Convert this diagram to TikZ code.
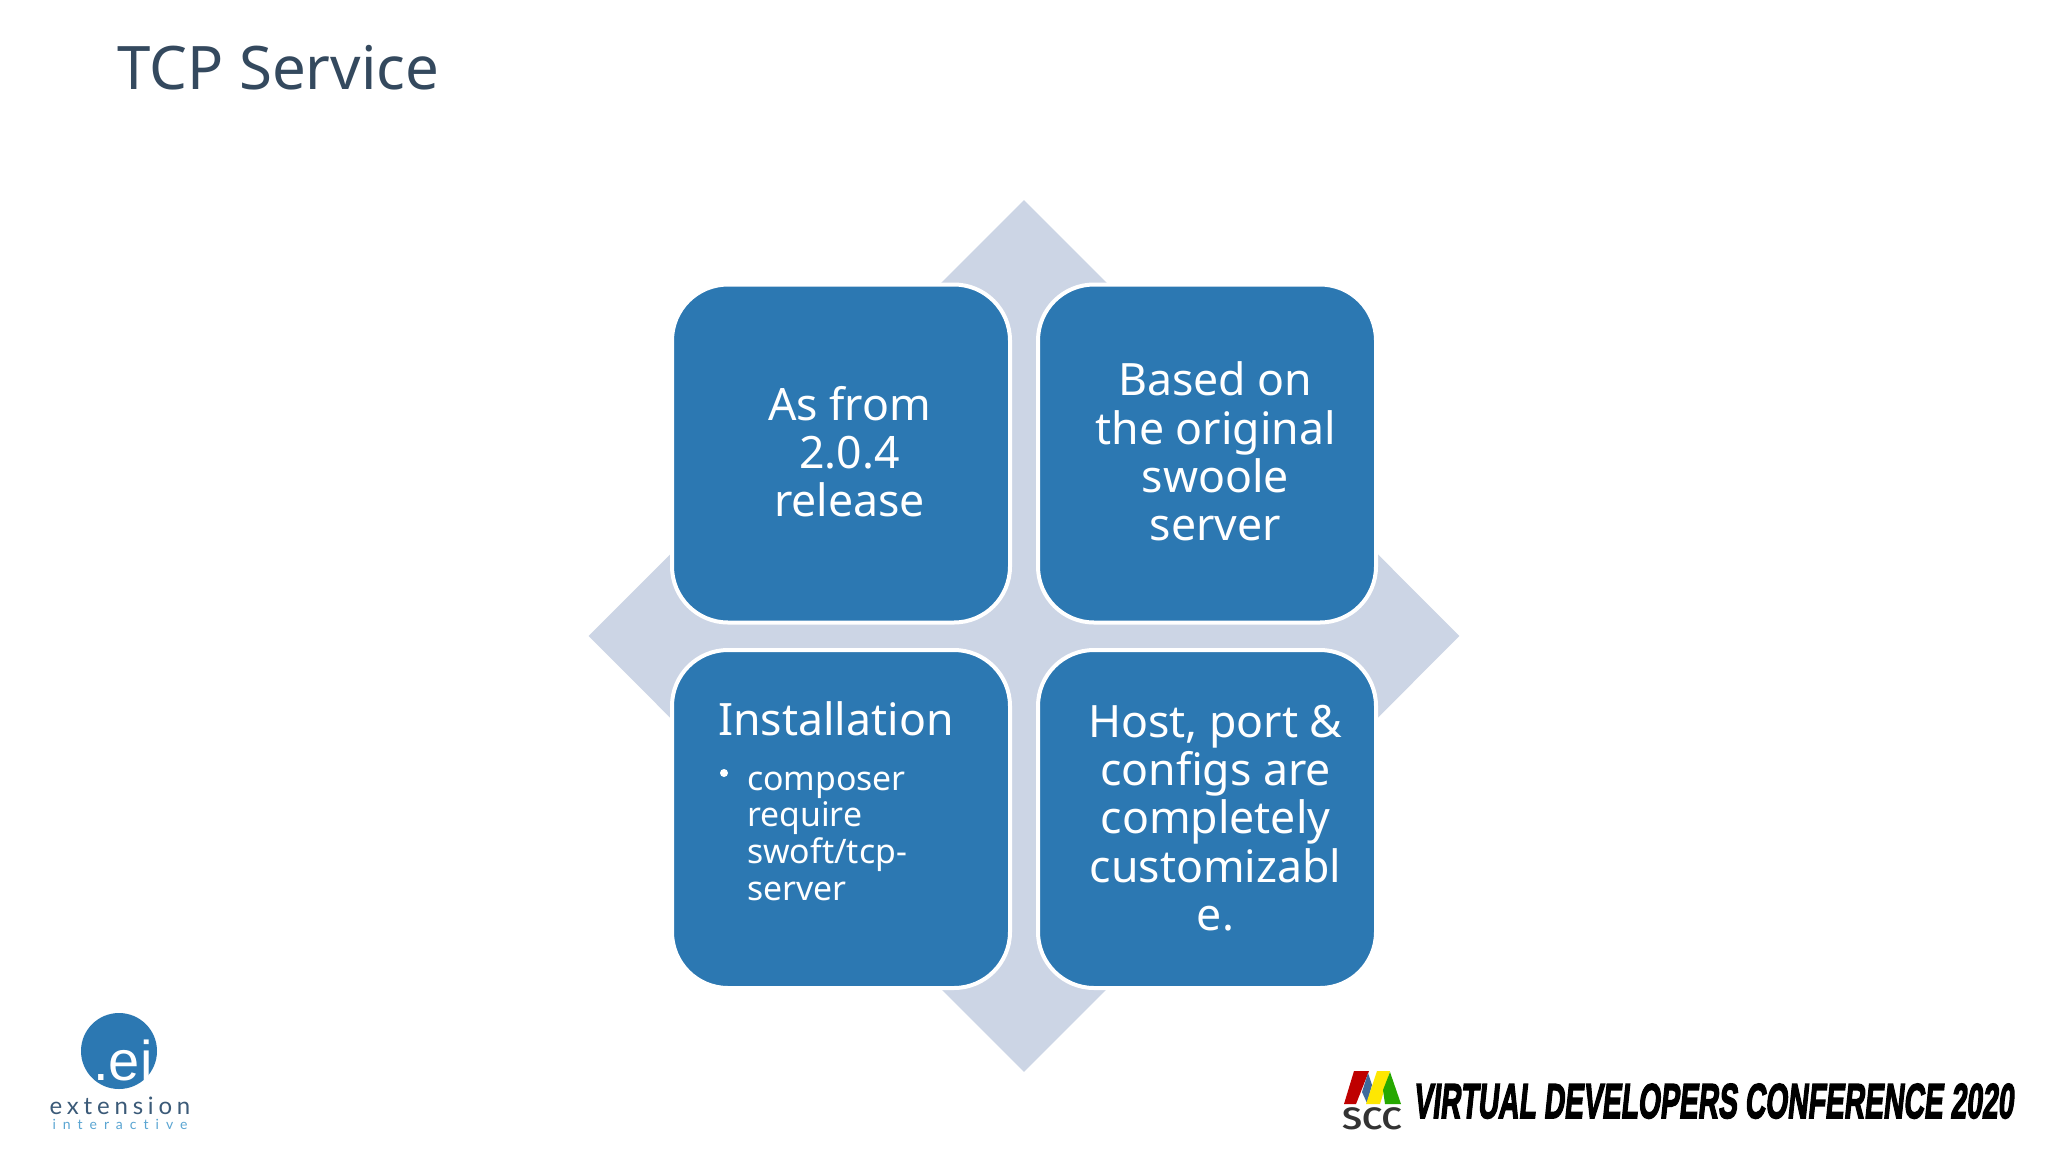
\documentclass[tikz,border=0pt]{standalone}
\usepackage{fontspec}
\usetikzlibrary{shapes.geometric}
\setmainfont{Noto Sans}
\newfontfamily\logofont[LetterSpace=20,Ligatures={NoCommon}]{Lato}
\newfontfamily\logowidefont[LetterSpace=50,Ligatures={NoCommon}]{Lato}
\newfontfamily\eifont{Liberation Sans}
\newfontfamily\bannerfont[FakeSlant=0.18,FakeBold=3.5]{Liberation Sans Bold}
\newfontfamily\sccfont{Fira Sans Medium}
\definecolor{boxblue}{HTML}{2C78B2}
\definecolor{backdrop}{HTML}{CCD5E5}
\definecolor{titleink}{HTML}{34495E}
\definecolor{logodark}{HTML}{3B5A78}
\definecolor{logolight}{HTML}{5AA5D2}
\tikzset{
  quad/.style={rectangle,rounded corners=56pt,draw=white,line width=4pt,fill=boxblue,
    minimum width=338pt,minimum height=338pt,inner sep=0pt},
  quadtext/.style={align=center,text=white,font=\fontsize{44.6}{48.3}\selectfont,inner sep=0pt}
}
\begin{document}
\begin{tikzpicture}[x=1pt,y=-1pt]
  \useasboundingbox (0,0) rectangle (2048,1152);
  \fill[white] (0,0) rectangle (2048,1152);
  \node[text=titleink,font=\fontsize{60}{70}\selectfont,anchor=base west,inner sep=0pt] (title) at (117,89.5) {TCP Service};

  % backdrop and the four boxes
  \node[diamond,aspect=1,fill=backdrop,inner sep=0pt,minimum width=871pt,minimum height=872pt] (back) at (1024,636) {};
  \node[quad] (q1) at (841,453.5) {};
  \node[quad] (q2) at (1207,453.5) {};
  \node[quad] (q3) at (841,819) {};
  \node[quad] (q4) at (1207,819) {};

  \node[quadtext] (t1) at (849.5,451.5) {As from\\2.0.4\\release};
  \node[quadtext] (t2) at (1215.5,451.5) {Based on\\the original\\swoole\\server};
  \node[quadtext] (t4) at (1215.5,818) {Host, port \&\\configs are\\completely\\customizabl\\e.};
  \node[quadtext,anchor=base west] (t3) at (718,735) {Installation};
  \node[text=white,align=left,anchor=base west,inner sep=0pt,font=\fontsize{33.8}{36.6}\selectfont] (t3b) at (747,900) {composer\\require\\swoft/tcp-\\server};
  \node[circle,fill=white,inner sep=0pt,minimum size=8pt] (dot) at (724,773) {};

  % extension interactive logo
  \node[circle,fill=boxblue,inner sep=0pt,minimum size=76pt] (ei) at (119,1051) {};
  \node[text=white,font=\eifont\fontsize{56}{56}\selectfont,anchor=base,inner sep=0pt] (eitext) at (123,1080) {.ei};
  \node[text=logodark,font=\logofont\fontsize{24}{24}\selectfont,anchor=base,inner sep=0pt] (ext) at (120,1114) {extension};
  \node[text=logolight,font=\logowidefont\fontsize{14}{14}\selectfont,anchor=base,inner sep=0pt] (inter) at (120,1129) {interactive};

  % scc logo
  \fill[red!75!black] (1354,1071) -- (1369,1071) -- (1356,1104) -- (1344,1104) -- cycle;
  \fill[cyan!55!blue!70!black] (1368,1073) -- (1372,1085) -- (1367,1103) -- (1362,1092) -- cycle;
  \fill[yellow!90!orange] (1377,1071) -- (1390,1071) -- (1380,1104) -- (1366,1104) -- cycle;
  \fill[green!60!black!85!yellow] (1390,1072) -- (1401,1104) -- (1385,1104) -- (1383,1090) -- cycle;
  \node[text=black!80,font=\sccfont\fontsize{31}{31}\selectfont,anchor=base,inner sep=0pt,xscale=1.15,transform shape] (scc) at (1372,1129) {SCC};
  \node[text=black,font=\bannerfont\fontsize{49}{49}\selectfont,anchor=base west,inner sep=0pt,xscale=0.577,transform shape] (banner) at (1413,1118) {VIRTUAL DEVELOPERS CONFERENCE 2020};
\end{tikzpicture}
\end{document}
